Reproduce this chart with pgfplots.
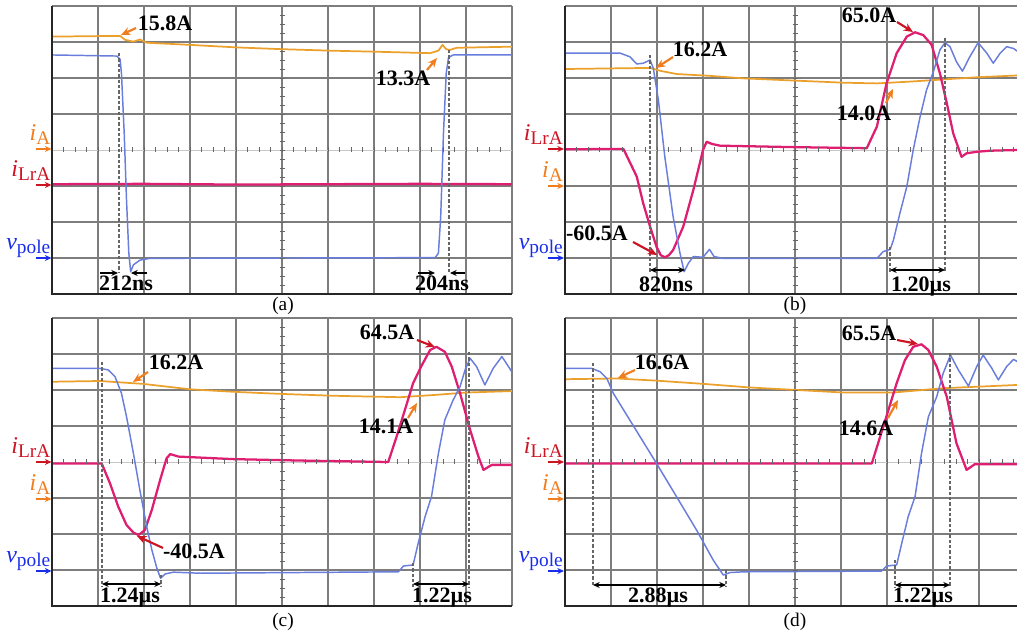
\documentclass[border=0pt]{standalone}
\usepackage{pgfplots}
\pgfplotsset{compat=1.18}
\usepackage{fontspec}
\setmainfont{Liberation Serif}
\usetikzlibrary{arrows.meta}
\definecolor{trO}{RGB}{234,160,42}
\definecolor{trP}{RGB}{222,30,112}
\definecolor{trB}{RGB}{105,125,220}
\definecolor{lbO}{RGB}{240,125,30}
\definecolor{lbR}{RGB}{205,20,35}
\definecolor{lbB}{RGB}{25,45,235}
\definecolor{grd}{RGB}{125,125,125}
\pgfplotsset{
 osc/.style={scale only axis, height=216pt, ymin=-4, ymax=4, xmin=0,
  ytick={-4,-3,-2,-1,1,2,3,4}, xticklabels={}, yticklabels={}, major tick length=0pt,
  extra y ticks={0}, extra y tick labels={}, extra y tick style={grid style={black!22, line width=0.6pt}},
  tick style={draw=none}, grid=major, grid style={grd, line width=0.8pt},
  axis line style={draw=none}, anchor=south west,
  every axis plot/.append style={line join=round, mark=none}},
 oscL/.style={osc, width=345pt, xmax=10, xtick={0,...,10}},
 oscR/.style={osc, width=339pt, xmax=9.826, xtick={0,...,9}},
 pO/.style={trO, line width=1.3pt},
 pP/.style={trP, line width=1.7pt},
 pB/.style={trB, line width=1.1pt}}
\tikzset{
 num/.style={font=\fontsize{16.5}{18}\selectfont\bfseries, anchor=base, inner sep=0pt},
 capt/.style={font=\fontsize{14.5}{16}\selectfont, anchor=base, inner sep=0pt},
 oar/.style={lbO, line width=1.6pt, -{Stealth[length=7pt,width=6pt]}},
 rar/.style={lbR, line width=1.6pt, -{Stealth[length=7pt,width=6pt]}},
 dsh/.style={black!60, line width=0.9pt, dash pattern=on 2.5pt off 1.5pt},
 mar/.style={black, line width=0.9pt, {Stealth[length=5pt,width=4.5pt]}-{Stealth[length=5pt,width=4.5pt]}},
 sar/.style={black, line width=0.9pt, -{Stealth[length=5pt,width=4.5pt]}}}
\newcommand\sig[2]{{\fontsize{18}{18}\selectfont\itshape #1}\raisebox{-3pt}{\fontsize{14.5}{15}\selectfont #2}}
\newcommand\siglab[4]{%
 \node[anchor=base east, inner sep=0pt, text=#3] at (#1,{#2-8}) {#4};
 \draw[#3, line width=1pt, -{Stealth[length=5pt,width=4.5pt]}] ({#1-15},#2)--({#1+1},#2);}
\newcommand\cticks[2]{%
 \foreach \k in {1,...,39} \draw[black!60,line width=0.7pt] ({#1+\k*11.5},{#2+141.5})--({#1+\k*11.5},{#2+146.5});
 \foreach \k in {1,...,31} \draw[black!60,line width=0.7pt] ({#1+227.5},{#2+\k*9})--({#1+232.5},{#2+\k*9});}
\begin{document}
\begin{tikzpicture}
\useasboundingbox (0,0) rectangle (762.75pt,476.25pt);
% ---------------- (a)
\begin{axis}[oscL, at={(39pt,255.75pt)}]
\addplot[pP] coordinates {(0,-0.95)(2,-0.94)(4,-0.96)(6,-0.95)(8,-0.94)(10,-0.95)};
\addplot[pO] coordinates {(0,3.15)(1.48,3.17)(1.59,3.06)(1.77,3.01)(1.91,3.07)(2.06,2.98)(3.0,2.92)(4.01,2.85)(5.01,2.80)(6.04,2.76)(7.04,2.73)(8.22,2.69)(8.40,2.76)(8.49,2.92)(8.57,2.80)(8.65,2.78)(8.80,2.84)(10,2.87)};
\addplot[pB] coordinates {(0,2.64)(1.41,2.61)(1.48,2.52)(1.51,2.13)(1.57,0.46)(1.62,-1.39)(1.67,-2.87)(1.71,-3.38)(1.77,-3.19)(1.91,-3.06)(2.13,-3.01)(8.33,-2.99)(8.40,-2.87)(8.45,-1.85)(8.51,0.46)(8.57,2.13)(8.62,2.57)(8.72,2.64)(10,2.64)};
\end{axis}
% ---------------- (b)
\begin{axis}[oscR, at={(423.75pt,255.75pt)}]
\addplot[pO] coordinates {(0,2.25)(1.85,2.28)(2.07,2.20)(2.43,2.11)(3.15,2.06)(3.88,1.99)(4.96,1.93)(6.05,1.87)(6.78,1.85)(7.5,1.90)(8.22,1.96)(8.95,2.02)(9.83,2.07)};
\addplot[pP] coordinates {(0,0.02)(1.27,0.03)(1.56,-0.74)(1.70,-1.48)(1.85,-2.13)(1.99,-2.69)(2.08,-2.92)(2.17,-2.98)(2.26,-2.92)(2.35,-2.78)(2.57,-2.13)(2.79,-1.11)(3.0,0)(3.08,0.23)(3.19,0.17)(3.37,0.12)(4.96,0.08)(6.56,0.05)(6.78,0.65)(6.99,1.85)(7.21,2.69)(7.43,3.15)(7.61,3.27)(7.79,3.19)(7.97,2.92)(8.15,2.13)(8.30,1.30)(8.44,0.46)(8.62,-0.19)(8.73,-0.09)(8.95,-0.05)(9.24,-0.02)(9.83,0)};
\addplot[pB] coordinates {(0,2.69)(1.2,2.69)(1.41,2.59)(1.56,2.39)(1.70,2.41)(1.85,2.5)(1.92,2.27)(2.03,1.39)(2.17,-0.19)(2.35,-1.85)(2.5,-2.87)(2.59,-3.38)(2.68,-3.15)(2.79,-2.96)(3.0,-2.98)(3.14,-2.76)(3.24,-2.96)(3.44,-3.01)(6.78,-3.01)(6.92,-2.82)(7.07,-2.76)(7.14,-2.5)(7.28,-1.76)(7.43,-1.02)(7.57,0)(7.72,0.93)(7.86,1.67)(8.01,2.18)(8.15,2.78)(8.26,2.98)(8.37,2.87)(8.51,2.45)(8.64,2.19)(8.80,2.59)(8.98,2.98)(9.17,2.69)(9.31,2.41)(9.46,2.69)(9.60,2.87)(9.75,2.82)(9.85,2.73)};
\end{axis}
% ---------------- (c)
\begin{axis}[oscL, at={(39pt,21.75pt)}]
\addplot[pO] coordinates {(0,2.23)(1.04,2.25)(1.98,2.17)(3.0,2.02)(3.94,1.95)(5.01,1.89)(6.12,1.84)(7.57,1.80)(8.29,1.86)(9.01,1.93)(10,1.97)};
\addplot[pP] coordinates {(0,-0.04)(1.08,-0.04)(1.26,-0.59)(1.44,-1.24)(1.62,-1.75)(1.77,-1.96)(1.88,-2.03)(2.02,-1.89)(2.17,-1.33)(2.35,-0.5)(2.49,0.10)(2.57,0.22)(2.75,0.15)(3.94,0.08)(5.39,0.04)(7.31,0)(7.49,0.70)(7.67,1.44)(7.85,2.19)(8.04,2.69)(8.22,3.11)(8.36,3.20)(8.54,3.06)(8.69,2.65)(8.87,1.91)(9.09,0.89)(9.27,0.15)(9.38,-0.22)(9.56,-0.08)(10,-0.08)};
\addplot[pB] coordinates {(0,2.60)(1.04,2.60)(1.22,2.56)(1.37,2.37)(1.51,1.91)(1.62,1.26)(1.77,0.24)(1.91,-0.78)(2.06,-1.80)(2.17,-2.44)(2.28,-2.95)(2.36,-3.23)(2.46,-3.11)(2.64,-3.06)(3.22,-3.09)(7.53,-3.05)(7.64,-2.89)(7.85,-2.86)(7.96,-2.26)(8.11,-1.52)(8.25,-0.96)(8.40,0.24)(8.54,1.17)(8.72,1.72)(8.87,2.09)(8.98,2.56)(9.09,2.88)(9.23,2.65)(9.41,2.14)(9.59,2.60)(9.78,2.93)(10,2.50)};
\end{axis}
% ---------------- (d)
\begin{axis}[oscR, at={(423.75pt,21.75pt)}]
\addplot[pO] coordinates {(0,2.30)(1.12,2.32)(1.99,2.26)(3.01,2.17)(4.02,2.07)(5.04,2.0)(6.05,1.93)(7.14,1.93)(8.22,2.05)(9.83,2.14)};
\addplot[pP] coordinates {(0,-0.04)(6.67,-0.04)(6.85,0.70)(7.03,1.44)(7.21,2.19)(7.39,2.83)(7.57,3.20)(7.75,3.27)(7.90,3.11)(8.08,2.65)(8.30,1.81)(8.51,0.52)(8.73,-0.22)(8.91,-0.06)(9.24,-0.06)(9.83,-0.06)};
\addplot[pB] coordinates {(0,2.60)(0.58,2.60)(0.76,2.51)(0.91,2.32)(1.05,1.91)(1.99,-0.04)(2.86,-1.89)(3.22,-2.72)(3.44,-3.14)(3.59,-3.07)(3.88,-3.05)(6.88,-3.03)(6.99,-2.89)(7.21,-2.86)(7.32,-2.26)(7.46,-1.52)(7.61,-0.96)(7.75,0.24)(7.90,1.26)(8.08,1.81)(8.22,2.46)(8.38,2.97)(8.55,2.56)(8.77,2.11)(8.95,2.65)(9.09,2.97)(9.28,2.60)(9.42,2.28)(9.60,2.65)(9.75,2.85)(9.83,2.79)};
\end{axis}
% ---------------- annotations in pixel units
\begin{scope}[x=0.75pt,y=-0.75pt,yshift=476.25pt]
\draw[black!85, line width=0.8pt] (52,6)--(52,294)--(512,294);
\draw[black!85, line width=0.8pt] (565,6)--(565,294)--(1017,294);
\draw[black!85, line width=0.8pt] (52,318)--(52,606)--(512,606);
\draw[black!85, line width=0.8pt] (565,318)--(565,606)--(1017,606);
\cticks{52}{6}\cticks{565}{6}\cticks{52}{318}\cticks{565}{318}
% (a)
\siglab{50.5}{149}{lbO}{\sig{i}{A}}
\siglab{50.5}{185}{lbR}{\sig{i}{LrA}}
\siglab{50.5}{258}{lbB}{\sig{v}{pole}}
\draw[dsh] (119,53)--(119,273);
\draw[dsh] (449,50)--(449,273);
\draw[sar] (100,273)--(118,273);
\draw[sar] (147,273)--(131,273);
\draw[sar] (418,273)--(435,273);
\draw[sar] (465,273)--(450,273);
\node[num] at (126,291) {212ns};
\node[num] at (442,291) {204ns};
\node[num] at (165,31) {15.8A};
\draw[oar] (136,28)--(121,35);
\node[num] at (403,86) {13.3A};
\draw[oar] (427,70)--(437,58);
\node[capt] at (283,311) {(a)};
% (b)
\siglab{563}{149}{lbR}{\sig{i}{LrA}}
\siglab{563}{186}{lbO}{\sig{i}{A}}
\siglab{563}{258}{lbB}{\sig{v}{pole}}
\draw[dsh] (650,55)--(650,272);
\draw[dsh] (890,247)--(890,272);
\draw[dsh] (945,38)--(945,272);
\draw[mar] (650,270)--(685,270);
\draw[mar] (890,270)--(945,270);
\node[num] at (666,292) {820ns};
\node[num] at (921,292) {1.20µs};
\node[num] at (700,57) {16.2A};
\draw[oar] (673,57)--(656,68);
\node[num] at (869,23) {65.0A};
\draw[rar] (897,22)--(913,32);
\node[num] at (864,121) {14.0A};
\draw[oar] (886,103)--(893,89);
\node[num] at (597,241) {-60.5A};
\draw[rar] (633,242)--(657,255);
\node[capt] at (795,311) {(b)};
% (c)
\siglab{50.5}{462}{lbR}{\sig{i}{LrA}}
\siglab{50.5}{499}{lbO}{\sig{i}{A}}
\siglab{50.5}{571}{lbB}{\sig{v}{pole}}
\draw[dsh] (102,362)--(102,587);
\draw[dsh] (161,575)--(161,587);
\draw[dsh] (413,563)--(413,587);
\draw[dsh] (469,352)--(469,587);
\draw[mar] (102,584)--(161,584);
\draw[mar] (413,584)--(469,584);
\node[num] at (130,603) {1.24µs};
\node[num] at (442,603) {1.22µs};
\node[num] at (176,370) {16.2A};
\draw[oar] (148,372)--(133,382);
\node[num] at (387,340) {64.5A};
\draw[rar] (417,340)--(435,347);
\node[num] at (386,434) {14.1A};
\draw[oar] (408,418)--(417,403);
\node[num] at (194,559) {-40.5A};
\draw[rar] (163,548)--(137,536);
\node[capt] at (283,627) {(c)};
% (d)
\siglab{563}{462}{lbR}{\sig{i}{LrA}}
\siglab{563}{499}{lbO}{\sig{i}{A}}
\siglab{563}{571}{lbB}{\sig{v}{pole}}
\draw[dsh] (593,363)--(593,587);
\draw[dsh] (726,570)--(726,587);
\draw[dsh] (895,560)--(895,587);
\draw[dsh] (950,353)--(950,587);
\draw[mar] (593,585)--(726,585);
\draw[mar] (895,585)--(950,585);
\node[num] at (658,603) {2.88µs};
\node[num] at (923,603) {1.22µs};
\node[num] at (662,370) {16.6A};
\draw[oar] (635,370)--(618,378);
\node[num] at (869,341) {65.5A};
\draw[rar] (897,340)--(918,344);
\node[num] at (866,436) {14.6A};
\draw[oar] (888,418)--(898,400);
\node[capt] at (795,627) {(d)};
\end{scope}
\end{tikzpicture}
\end{document}
